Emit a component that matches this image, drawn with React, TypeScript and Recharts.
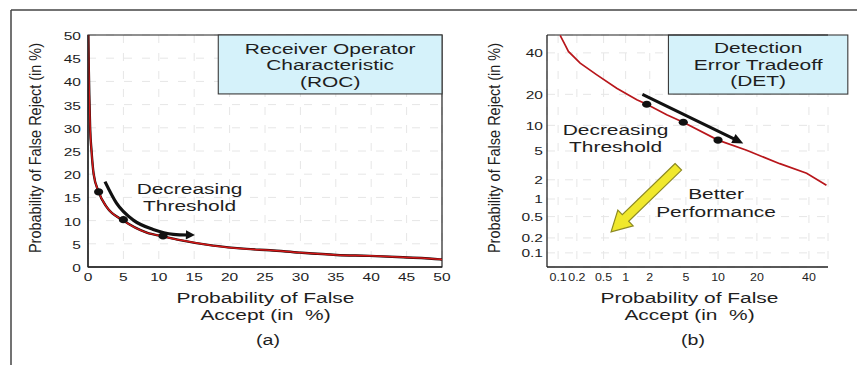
import React from 'react';
import {
  ComposedChart,
  Line,
  XAxis,
  YAxis,
  CartesianGrid,
  ReferenceArea,
  ReferenceLine,
  ReferenceDot,
} from 'recharts';

const FONT = '"Liberation Sans", Arial, Helvetica, sans-serif';
const S = 1.35; // horizontal stretch of the reference's lettering
const INK = '#1e1e1e';

/* ---------------- ROC (a) ---------------- */
const rocTicks = [0, 5, 10, 15, 20, 25, 30, 35, 40, 45, 50];
const rocFA = [0.05, 0.12, 0.2, 0.3, 0.5, 0.8, 1.5, 2.6, 5, 8.3, 10.6, 13, 17.7, 22.4, 25.7, 29.9, 35.1, 39.8, 44.5, 49.7, 50];
const rocFR = [50, 42, 36, 30, 25, 20, 16.2, 13, 10, 7.4, 6.6, 5.8, 4.6, 3.9, 3.6, 3.1, 2.6, 2.4, 2.1, 1.65, 1.6];
const rocPointFA = [1.5, 5, 10.6];
const rocPointFR = [16.2, 10.2, 6.7];
const rocArrowFA = [2.4, 4.05, 6.4, 9.2, 12.05, 14.2];
const rocArrowFR = [18.4, 13.7, 10.1, 8.1, 7.05, 6.9];
const rocArrowHeadFA = [12.8, 15.1];
const rocArrowHeadFR = [6.98, 6.88];
const rocBoxFA = [18.4, 50];
const rocBoxFR = [37.3, 50];
const rocTitle = ['Receiver Operator', 'Characteristic', '(ROC)'];
const rocNoteFA = 14.34;
const rocNoteFR = 15.09;

/* ---------------- DET (b) ---------------- */
const detTickValues = [0.1, 0.2, 0.5, 1, 2, 5, 10, 20, 40];
const detTickLabels = ['0.1', '0.2', '0.5', '1', '2', '5', '10', '20', '40'];
const detFA = [0.108, 0.13, 0.147, 0.225, 0.4, 0.76, 1.39, 1.84, 3.13, 4.7, 10, 16.9, 28, 39, 47.8];
const detFR = [49.8, 44.4, 40.8, 34.5, 28.6, 22.5, 17.9, 16.3, 12.9, 10.8, 6.8, 5.1, 3.4, 2.5, 1.66];
const detPointFA = [1.84, 4.7, 10.0];
const detPointFR = [16.3, 10.8, 6.8];
const detXRange = [0.065, 48.5];
const detYRange = [0.05, 50];
const detArrowFA = [1.63, 15.96];
const detArrowFR = [20, 6.21];
const betterArrowFA = [4.18, 0.637];
const betterArrowFR = [3.08, 0.262];
const detBoxFA = [3.27, 57.4];
const detBoxFR = [20.1, 50];
const detTitle = ['Detection', 'Error Tradeoff', '(DET)'];
const detNoteFA = 0.734;
const detNoteFR = 7.19;
const betterNoteFA = 9.61;
const betterNoteFR = 0.889;

/* inverse standard normal CDF (Acklam) - maps percent to normal deviate */
function probitP(p: number): number {
  const a = [-3.969683028665376e1, 2.209460984245205e2, -2.759285104469687e2, 1.38357751867269e2, -3.066479806614716e1, 2.506628277459239];
  const b = [-5.447609879822406e1, 1.615858368580409e2, -1.556989798598866e2, 6.680131188771972e1, -1.328068155288572e1];
  const c = [-7.784894002430293e-3, -3.223964580411365e-1, -2.400758277161838, -2.549732539343734, 4.374664141464968, 2.938163982698783];
  const d = [7.784695709041462e-3, 3.224671290700398e-1, 2.445134137142996, 3.754408661907416];
  const plow = 0.02425;
  const phigh = 1 - plow;
  if (p < plow) {
    const q = Math.sqrt(-2 * Math.log(p));
    return (((((c[0] * q + c[1]) * q + c[2]) * q + c[3]) * q + c[4]) * q + c[5]) / ((((d[0] * q + d[1]) * q + d[2]) * q + d[3]) * q + 1);
  }
  if (p <= phigh) {
    const q = p - 0.5;
    const r = q * q;
    return ((((((a[0] * r + a[1]) * r + a[2]) * r + a[3]) * r + a[4]) * r + a[5]) * q) / (((((b[0] * r + b[1]) * r + b[2]) * r + b[3]) * r + b[4]) * r + 1);
  }
  const q = Math.sqrt(-2 * Math.log(1 - p));
  return -(((((c[0] * q + c[1]) * q + c[2]) * q + c[3]) * q + c[4]) * q + c[5]) / ((((d[0] * q + d[1]) * q + d[2]) * q + d[3]) * q + 1);
}
const pz = (percent: number) => probitP(percent / 100);

/* tables built from the arrays */
const rocCurve = rocFA.map((x, i) => ({ x, y: rocFR[i] }));
const rocPoints = rocPointFA.map((x, i) => ({ x, y: rocPointFR[i] }));
const rocArrow = rocArrowFA.map((x, i) => ({ x, y: rocArrowFR[i] }));

const detCurve = detFA.map((x, i) => ({ x: pz(x), y: pz(detFR[i]) }));
const detPoints = detPointFA.map((x, i) => ({ x: pz(x), y: pz(detPointFR[i]) }));
const detTicks = detTickValues.map(pz);

/* ---------------- helpers ---------------- */
type STProps = { x: number; y: number; size?: number; anchor?: string; sx?: number; children: React.ReactNode };
const ST = ({ x, y, size = 15.5, anchor = 'middle', sx = S, children }: STProps) => (
  <text
    transform={`translate(${x},${y}) scale(${sx},1)`}
    x={0}
    y={0}
    textAnchor={anchor as any}
    fontSize={size}
    fontFamily={FONT}
    fill={INK}
    style={{ whiteSpace: 'pre' }}
  >
    {children}
  </text>
);

const detLabelFor = (v: number) => {
  let best = 0;
  let bd = Infinity;
  detTicks.forEach((t, i) => {
    const dd = Math.abs(t - v);
    if (dd < bd) {
      bd = dd;
      best = i;
    }
  });
  return detTickLabels[best];
};

const RocXTick = (p: any) => (
  <ST x={p.x} y={p.y + 13.7} size={11.5}>
    {String(p.payload.value)}
  </ST>
);
const RocYTick = (p: any) => (
  <ST x={p.x - 7} y={p.y + 5} size={11.5} anchor="end">
    {String(p.payload.value)}
  </ST>
);
const DetXTick = (p: any) => (
  <ST x={p.x} y={p.y + 13.7} size={11.5} sx={1.08}>
    {detLabelFor(p.payload.value)}
  </ST>
);
const DetYTick = (p: any) => (
  <ST x={p.x - 4} y={p.y + 4.3} size={11.5} anchor="end">
    {detLabelFor(p.payload.value)}
  </ST>
);

const EllipseDot = (p: any) => {
  if (p.cx == null || p.cy == null) return <g key={p.key} />;
  return <ellipse key={p.key ?? `${p.cx}-${p.cy}`} cx={p.cx} cy={p.cy} rx={4.6} ry={3.6} fill="#111" />;
};

const makeTitleBox = (lines: string[], offs: number[]) => (p: any) => (
  <g>
    <rect x={p.x} y={p.y} width={p.width} height={p.height} fill="#d5f2fa" stroke="#3a3a3a" strokeWidth={1.1} />
    {lines.map((t, i) => (
      <ST key={t} x={p.x + p.width / 2} y={p.y + offs[i]}>
        {t}
      </ST>
    ))}
  </g>
);

const makeNote = (lines: string[], offs: number[]) => (p: any) => (
  <g>
    {lines.map((t, i) => (
      <ST key={t} x={p.cx} y={p.cy + offs[i]}>
        {t}
      </ST>
    ))}
  </g>
);

const headPoints = (x1: number, y1: number, x2: number, y2: number, len: number, hw: number) => {
  const dx = x2 - x1;
  const dy = y2 - y1;
  const L = Math.hypot(dx, dy) || 1;
  const ux = dx / L;
  const uy = dy / L;
  const bx = x2 - ux * len;
  const by = y2 - uy * len;
  return `${x2},${y2} ${bx - uy * hw},${by + ux * hw} ${bx + uy * hw},${by - ux * hw}`;
};

const RocArrowHead = (p: any) => <polygon points={headPoints(p.x1, p.y1, p.x2, p.y2, 9, 4.6)} fill="#111" />;

const BlackArrow = (p: any) => {
  const dx = p.x2 - p.x1;
  const dy = p.y2 - p.y1;
  const L = Math.hypot(dx, dy) || 1;
  const ex = p.x2 - (dx / L) * 8;
  const ey = p.y2 - (dy / L) * 8;
  return (
    <g>
      <line x1={p.x1} y1={p.y1} x2={ex} y2={ey} stroke="#111" strokeWidth={3} />
      <polygon points={headPoints(p.x1, p.y1, p.x2, p.y2, 11, 5)} fill="#111" />
    </g>
  );
};

const YellowArrow = (p: any) => {
  const dx = p.x2 - p.x1;
  const dy = p.y2 - p.y1;
  const L = Math.hypot(dx, dy) || 1;
  const ux = dx / L;
  const uy = dy / L;
  const nx = -uy;
  const ny = ux;
  const w = 4.6;
  const hw = 11;
  const hl = 20;
  const kx = p.x2 - ux * hl;
  const ky = p.y2 - uy * hl;
  const pts = [
    [p.x1 + nx * w, p.y1 + ny * w],
    [kx + nx * w, ky + ny * w],
    [kx + nx * hw, ky + ny * hw],
    [p.x2, p.y2],
    [kx - nx * hw, ky - ny * hw],
    [kx - nx * w, ky - ny * w],
    [p.x1 - nx * w, p.y1 - ny * w],
  ]
    .map((q) => q.join(','))
    .join(' ');
  return <polygon points={pts} fill="#f0e82c" stroke="#8d8a22" strokeWidth={1.2} strokeLinejoin="miter" />;
};

const axisLine = { stroke: '#222', strokeWidth: 1.3 };
const gridStroke = '#e6e6e6';

export default function App() {
  return (
    <div style={{ position: 'relative', width: 857, height: 365, background: '#fff', overflow: 'hidden' }}>
      <style>{`html,body{margin:0;padding:0;overflow:hidden;background:#fff}`}</style>

      {/* (a) ROC */}
      <div style={{ position: 'absolute', left: 0, top: 0 }}>
        <ComposedChart width={460} height={365} margin={{ top: 35, right: 18, left: 28, bottom: 68 }}>
          <CartesianGrid stroke={gridStroke} strokeDasharray="8 10" />
          <XAxis
            dataKey="x"
            type="number"
            domain={[0, 50]}
            ticks={rocTicks}
            interval={0}
            allowDataOverflow
            height={30}
            tickSize={0}
            tickMargin={0}
            tickLine={false}
            tick={RocXTick}
            axisLine={axisLine}
          />
          <YAxis
            type="number"
            domain={[0, 50]}
            ticks={rocTicks}
            interval={0}
            allowDataOverflow
            width={60}
            tickSize={0}
            tickMargin={0}
            tickLine={false}
            tick={RocYTick}
            axisLine={axisLine}
          />
          <ReferenceArea x1={0} x2={50} y1={0} y2={50} fill="none" stroke="#222" strokeWidth={1.2} ifOverflow="visible" />
          <ReferenceArea
            x1={rocBoxFA[0]}
            x2={rocBoxFA[1]}
            y1={rocBoxFR[0]}
            y2={rocBoxFR[1]}
            ifOverflow="visible"
            shape={makeTitleBox(rocTitle, [19, 35, 51.5])}
          />
          <Line data={rocCurve} dataKey="y" type="monotone" stroke="#1a0505" strokeWidth={2.4} dot={false} isAnimationActive={false} />
          <Line data={rocCurve} dataKey="y" type="monotone" stroke="#d41818" strokeWidth={1.5} dot={false} isAnimationActive={false} />
          <Line data={rocArrow} dataKey="y" type="monotone" stroke="#111" strokeWidth={3.2} dot={false} isAnimationActive={false} />
          <Line data={rocPoints} dataKey="y" stroke="none" dot={EllipseDot} isAnimationActive={false} />
          <ReferenceLine
            segment={[
              { x: rocArrowHeadFA[0], y: rocArrowHeadFR[0] },
              { x: rocArrowHeadFA[1], y: rocArrowHeadFR[1] },
            ]}
            ifOverflow="visible"
            shape={RocArrowHead}
          />
          <ReferenceDot
            x={rocNoteFA}
            y={rocNoteFR}
            r={0}
            ifOverflow="visible"
            shape={makeNote(['Decreasing', 'Threshold'], [-3, 13.7])}
          />
        </ComposedChart>
      </div>

      {/* (b) DET */}
      <div style={{ position: 'absolute', left: 460, top: 0 }}>
        <ComposedChart width={397} height={365} margin={{ top: 35, right: 29, left: 27, bottom: 68 }}>
          <CartesianGrid stroke={gridStroke} strokeDasharray="8 10" />
          <XAxis
            dataKey="x"
            type="number"
            domain={[pz(detXRange[0]), pz(detXRange[1])]}
            ticks={detTicks}
            interval={0}
            allowDataOverflow
            height={30}
            tickSize={0}
            tickMargin={0}
            tickLine={false}
            tick={DetXTick}
            axisLine={axisLine}
          />
          <YAxis
            type="number"
            domain={[pz(detYRange[0]), pz(detYRange[1])]}
            ticks={detTicks}
            interval={0}
            allowDataOverflow
            width={60}
            tickSize={0}
            tickMargin={0}
            tickLine={false}
            tick={DetYTick}
            axisLine={axisLine}
          />
          <ReferenceLine y={pz(detYRange[1])} stroke="#222" strokeWidth={1.2} ifOverflow="visible" />
          <ReferenceArea
            x1={pz(detBoxFA[0])}
            x2={pz(detBoxFA[1])}
            y1={pz(detBoxFR[0])}
            y2={pz(detBoxFR[1])}
            ifOverflow="visible"
            shape={makeTitleBox(detTitle, [18, 34.5, 51])}
          />
          <Line data={detCurve} dataKey="y" type="linear" stroke="#b8161b" strokeWidth={1.7} dot={false} isAnimationActive={false} />
          <Line data={detPoints} dataKey="y" stroke="none" dot={EllipseDot} isAnimationActive={false} />
          <ReferenceLine
            segment={[
              { x: pz(detArrowFA[0]), y: pz(detArrowFR[0]) },
              { x: pz(detArrowFA[1]), y: pz(detArrowFR[1]) },
            ]}
            ifOverflow="visible"
            shape={BlackArrow}
          />
          <ReferenceLine
            segment={[
              { x: pz(betterArrowFA[0]), y: pz(betterArrowFR[0]) },
              { x: pz(betterArrowFA[1]), y: pz(betterArrowFR[1]) },
            ]}
            ifOverflow="visible"
            shape={YellowArrow}
          />
          <ReferenceDot
            x={pz(detNoteFA)}
            y={pz(detNoteFR)}
            r={0}
            ifOverflow="visible"
            shape={makeNote(['Decreasing', 'Threshold'], [-3, 13.7])}
          />
          <ReferenceDot
            x={pz(betterNoteFA)}
            y={pz(betterNoteFR)}
            r={0}
            ifOverflow="visible"
            shape={makeNote(['Better', 'Performance'], [-3, 14.5])}
          />
        </ComposedChart>
      </div>

      {/* frame and axis titles */}
      <svg width={857} height={365} style={{ position: 'absolute', left: 0, top: 0, pointerEvents: 'none' }}>
        <line x1={11} y1={10} x2={857} y2={10} stroke="#444" strokeWidth={1.5} />
        <line x1={11} y1={10} x2={11} y2={365} stroke="#444" strokeWidth={1.5} />

        <text transform="translate(40.5,148) rotate(-90) scale(1,1.2)" textAnchor="middle" fontSize={14.5} fontFamily={FONT} fill={INK}>
          Probability of False Reject (in %)
        </text>
        <text transform="translate(499.5,148) rotate(-90) scale(1,1.2)" textAnchor="middle" fontSize={14.5} fontFamily={FONT} fill={INK}>
          Probability of False Reject (in %)
        </text>

        <ST x={265.5} y={302.5}>Probability of False</ST>
        <ST x={265.5} y={320}>{'Accept (in  %)'}</ST>
        <ST x={268} y={345} size={14.5}>(a)</ST>

        <ST x={689.5} y={302.5}>Probability of False</ST>
        <ST x={689.5} y={320}>{'Accept (in  %)'}</ST>
        <ST x={693} y={345} size={14.5}>(b)</ST>
      </svg>
    </div>
  );
}
